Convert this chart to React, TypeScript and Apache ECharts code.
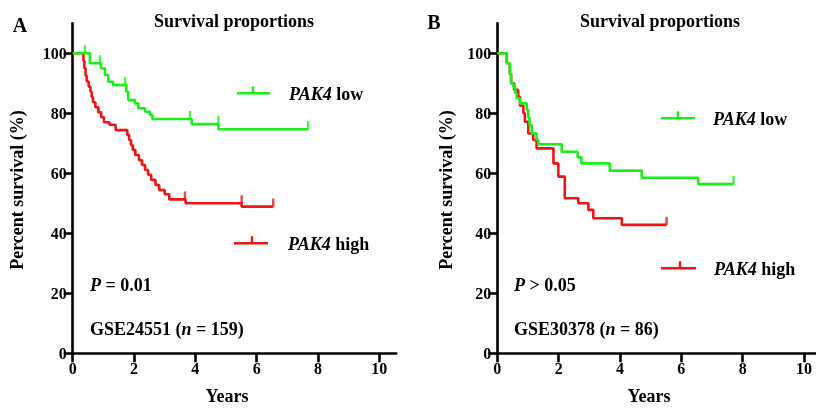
import React, { useEffect, useRef } from "react";
import * as echarts from "echarts";

const xTicks = [0, 2, 4, 6, 8, 10];
const yTicks = [0, 20, 40, 60, 80, 100];

// Panel A (GSE24551)
const lowA: [number, number][] = [
  [0, 100], [0.56, 96.7], [0.92, 95.0], [1.05, 92.8], [1.16, 90.5], [1.32, 89.4],
  [1.75, 87.2], [1.81, 84.4], [2.03, 83.3], [2.14, 81.7], [2.36, 80.5], [2.52, 79.4],
  [2.6, 78.1], [3.88, 76.4], [4.75, 74.7], [7.68, 74.7],
];
const lowACensor: [number, number][] = [
  [0.4, 100], [0.89, 96.7], [1.71, 89.4], [3.83, 78.1], [4.75, 76.4], [7.68, 74.7],
];
const highA: [number, number][] = [
  [0, 100], [0.35, 97.5], [0.38, 95.0], [0.42, 92.5], [0.46, 90.6], [0.52, 88.9],
  [0.58, 87.2], [0.62, 85.4], [0.66, 83.7], [0.74, 82.0], [0.84, 80.3], [0.93, 78.7],
  [1.02, 77.0], [1.2, 76.2], [1.4, 74.4], [1.78, 72.8], [1.84, 71.1], [1.9, 69.4],
  [1.96, 67.8], [2.04, 66.1], [2.16, 64.4], [2.26, 62.8], [2.36, 61.1], [2.46, 59.5],
  [2.56, 57.8], [2.7, 56.1], [2.82, 54.4], [3.0, 53.0], [3.15, 51.3], [3.68, 50.0],
  [5.51, 48.9], [6.54, 48.9],
];
const highACensor: [number, number][] = [[3.66, 51.3], [5.51, 50.0], [6.54, 48.9]];

// Panel B (GSE30378)
const lowB: [number, number][] = [
  [0, 100], [0.31, 96.7], [0.41, 93.0], [0.45, 90.0], [0.52, 88.9], [0.58, 86.7],
  [0.63, 85.0], [0.74, 83.3], [0.96, 81.1], [1.01, 78.5], [1.05, 76.1], [1.12, 73.3],
  [1.28, 71.1], [1.34, 69.7], [2.1, 67.2], [2.62, 65.3], [2.74, 63.3], [3.67, 60.9],
  [4.71, 58.5], [6.55, 56.4], [7.7, 56.4],
];
const lowBCensor: [number, number][] = [[7.7, 56.4]];
const highB: [number, number][] = [
  [0, 100], [0.31, 96.7], [0.41, 93.0], [0.45, 90.0], [0.55, 87.8], [0.68, 85.5],
  [0.74, 82.5], [0.85, 80.0], [0.9, 77.2], [1.01, 73.3], [1.17, 71.1], [1.28, 68.3],
  [1.83, 63.3], [1.99, 58.9], [2.2, 51.7], [2.64, 50.0], [2.97, 47.8], [3.13, 45.0],
  [4.06, 42.8], [5.52, 42.8],
];
const highBCensor: [number, number][] = [[5.52, 42.8]];

const GREEN = "#18F018";
const RED = "#F01414";
const FONT = "'Liberation Serif', 'Times New Roman', serif";

function txt(text: string, x: number, y: number, size: number, align = "left", extra: any = {}) {
  return {
    type: "text",
    x,
    y,
    ...extra,
    style: {
      text,
      x: 0,
      y: 0,
      fill: "#000",
      fontFamily: FONT,
      fontWeight: "bold",
      fontSize: size,
      align,
      verticalAlign: "middle",
      textAlign: align,
      textVerticalAlign: "middle",
      rich: {
        i: { fontFamily: FONT, fontWeight: "bold", fontStyle: "italic", fontSize: size, fill: "#000" },
        b: { fontFamily: FONT, fontWeight: "bold", fontSize: size, fill: "#000" },
      },
    },
  };
}

function legendSym(x1: number, x2: number, y: number, tx: number, color: string) {
  return [
    { type: "line", shape: { x1, y1: y, x2, y2: y }, style: { stroke: color, lineWidth: 2.6 } },
    { type: "line", shape: { x1: tx, y1: y - 7, x2: tx, y2: y }, style: { stroke: color, lineWidth: 2.4 } },
  ];
}

export default function App() {
  const ref = useRef<HTMLDivElement>(null);
  useEffect(() => {
    const chart = echarts.init(ref.current!, null, { renderer: "svg" });
    const axisLineStyle = { color: "#000", width: 2.6 };
    const labelStyle = { color: "#000", fontFamily: FONT, fontWeight: "bold", fontSize: 16 };
    const mkX = (idx: number, max: number) => ({
      type: "value",
      gridIndex: idx,
      min: 0,
      max,
      axisLine: { show: true, onZero: false, lineStyle: axisLineStyle },
      axisTick: { show: true, length: 9, lineStyle: axisLineStyle, customValues: xTicks },
      axisLabel: { ...labelStyle, margin: 7, customValues: xTicks },
      splitLine: { show: false },
    });
    const mkY = (idx: number) => ({
      type: "value",
      gridIndex: idx,
      min: 0,
      max: 110,
      axisLine: { show: true, onZero: false, lineStyle: axisLineStyle },
      axisTick: { show: true, length: 9, lineStyle: axisLineStyle, customValues: yTicks },
      axisLabel: { ...labelStyle, margin: 6, customValues: yTicks },
      splitLine: { show: false },
    });
    const km = (data: [number, number][], color: string, idx: number, z: number) => ({
      type: "line",
      step: "end",
      data,
      xAxisIndex: idx,
      yAxisIndex: idx,
      symbol: "none",
      lineStyle: { color, width: 2.6 },
      z,
      silent: true,
    });
    const cens = (data: [number, number][], color: string, idx: number, z: number) => ({
      type: "scatter",
      data,
      xAxisIndex: idx,
      yAxisIndex: idx,
      symbol: "rect",
      symbolSize: [2.4, 8],
      symbolOffset: [0, -4],
      itemStyle: { color },
      z,
      silent: true,
    });
    const option: any = {
      animation: false,
      grid: [
        { left: 72.7, top: 23.3, width: 323.5, height: 330, containLabel: false },
        { left: 497.3, top: 23.3, width: 318.7, height: 330, containLabel: false },
      ],
      xAxis: [mkX(0, 10.55), mkX(1, 10.39)],
      yAxis: [mkY(0), mkY(1)],
      series: [
        km(highA, RED, 0, 2),
        cens(highACensor, RED, 0, 2),
        km(lowA, GREEN, 0, 3),
        cens(lowACensor, GREEN, 0, 3),
        km(highB, RED, 1, 2),
        cens(highBCensor, RED, 1, 2),
        km(lowB, GREEN, 1, 3),
        cens(lowBCensor, GREEN, 1, 3),
      ],
      graphic: [
        txt("A", 20, 25, 20, "center"),
        txt("B", 434, 22, 20, "center"),
        txt("Survival proportions", 234, 21, 18, "center"),
        txt("Survival proportions", 660, 21, 18, "center"),
        txt("Percent survival (%)", 17, 190, 18, "center", { rotation: Math.PI / 2 }),
        txt("Percent survival (%)", 446, 190, 18, "center", { rotation: Math.PI / 2 }),
        txt("Years", 227, 396, 18, "center"),
        txt("Years", 649, 396, 18, "center"),
        txt("{i|P}{b| = 0.01}", 90, 285, 18, "left"),
        txt("{b|GSE24551 (}{i|n}{b| = 159)}", 90, 329, 18, "left"),
        txt("{i|P}{b| > 0.05}", 514, 285, 18, "left"),
        txt("{b|GSE30378 (}{i|n}{b| = 86)}", 514, 329, 18, "left"),
        ...legendSym(237, 270, 93.3, 253, GREEN),
        txt("{i|PAK4}{b| low}", 289, 93.5, 18, "left"),
        ...legendSym(234, 268, 243.3, 252, RED),
        txt("{i|PAK4}{b| high}", 288, 243.5, 18, "left"),
        ...legendSym(661, 695, 118.3, 678, GREEN),
        txt("{i|PAK4}{b| low}", 713, 118.5, 18, "left"),
        ...legendSym(661, 696, 268.3, 680, RED),
        txt("{i|PAK4}{b| high}", 714, 268.5, 18, "left"),
      ],
    };
    chart.setOption(option);
    return () => chart.dispose();
  }, []);
  return <div ref={ref} style={{ position: "fixed", left: 0, top: 0, width: 816, height: 408 }} />;
}
